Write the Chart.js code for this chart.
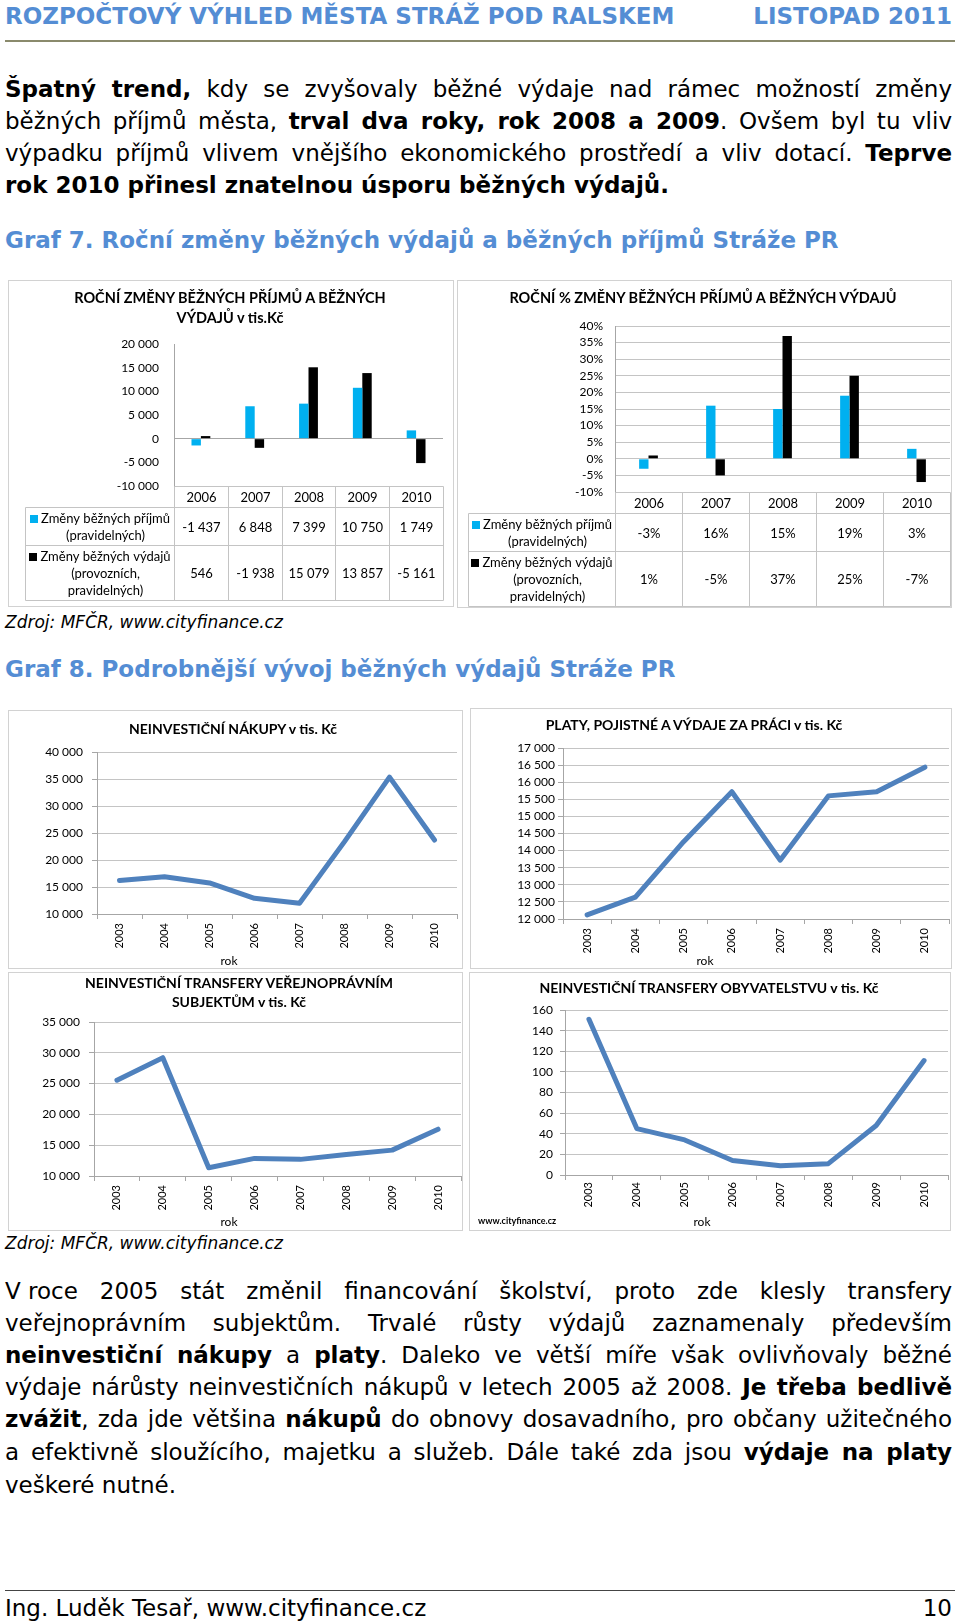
<!DOCTYPE html>
<html lang="cs">
<head>
<meta charset="utf-8">
<title>Rozpočtový výhled města Stráž pod Ralskem</title>
<script src="https://cdn.jsdelivr.net/npm/chart.js@4.4.1/dist/chart.umd.min.js"></script>
<style>
  html, body { margin: 0; padding: 0; background: #fff; }
  body { width: 960px; height: 1624px; position: relative; overflow: hidden;
         font-family: "DejaVu Sans", Verdana, sans-serif; color: #000; }
  .abs { position: absolute; white-space: nowrap; }
  .head { font-weight: bold; color: #548dd4; font-size: 23px; line-height: 30px; }
  .jl { position: absolute; left: 5px; width: 947px; height: 32px; font-size: 23px; line-height: 32px; white-space: nowrap; }
  .jl .ns { word-spacing: normal; }
  .zdroj { font-style: italic; font-size: 17px; line-height: 24px; left: 5px; }
  .box { position: absolute; border: 1px solid #d2d2d2; box-sizing: border-box; background: #fff; }
  .cw { position: absolute; left: 0; top: 0; right: 0; bottom: 0; }
  .ct { position: absolute; font-family: Lato, sans-serif; font-weight: bold; font-size: 14.5px; line-height: 20px;
        text-align: center; transform: translateX(-50%); white-space: nowrap; }
  .rok { position: absolute; font-family: Lato, sans-serif; font-size: 12px; line-height: 14px; transform: translateX(-50%); }
  .rule { position: absolute; left: 5px; width: 950px; }
</style>
</head>
<body>

<div class="abs head" style="left:5px; top:1px;">ROZPOČTOVÝ VÝHLED MĚSTA STRÁŽ POD RALSKEM</div>
<div class="abs head" style="right:8px; top:1px;">LISTOPAD 2011</div>
<div class="rule" style="top:40px; height:2px; background:#8a8a6c;"></div>

<div class="jl just" style="top:73px;"><span><b>Špatný trend,</b> kdy se zvyšovaly běžné výdaje nad rámec možností změny</span></div>
<div class="jl just" style="top:105px;"><span>běžných příjmů města, <b>trval dva roky, rok 2008 a 2009</b>. Ovšem byl tu vliv</span></div>
<div class="jl just" style="top:137px;"><span>výpadku příjmů vlivem vnějšího ekonomického prostředí a vliv dotací. <b>Teprve</b></span></div>
<div class="jl" style="top:169px;"><span><b>rok 2010 přinesl znatelnou úsporu běžných výdajů.</b></span></div>

<div class="abs head" style="left:5px; top:225px;">Graf 7. Roční změny běžných výdajů a běžných příjmů Stráže PR</div>

<div class="box" style="left:8px; top:280px; width:446px; height:327px;"><div class="cw"><canvas id="c1"></canvas></div></div>
<div class="box" style="left:457px; top:280px; width:495px; height:328px;"><div class="cw"><canvas id="c2"></canvas></div></div>
<div class="ct" style="left:230px; top:288px;">ROČNÍ ZMĚNY BĚŽNÝCH PŘÍJMŮ A BĚŽNÝCH<br>VÝDAJŮ v tis.Kč</div>
<div class="ct" style="left:703px; top:288px;">ROČNÍ % ZMĚNY BĚŽNÝCH PŘÍJMŮ A BĚŽNÝCH VÝDAJŮ</div>

<div class="abs zdroj" style="top:610px;">Zdroj: MFČR, www.cityfinance.cz</div>

<div class="abs head" style="left:5px; top:654px;">Graf 8. Podrobnější vývoj běžných výdajů Stráže PR</div>

<div class="box" style="left:8px; top:710px; width:455px; height:259px;"><div class="cw"><canvas id="c3"></canvas></div></div>
<div class="box" style="left:470px; top:708px; width:482px; height:261px;"><div class="cw"><canvas id="c4"></canvas></div></div>
<div class="box" style="left:8px; top:972px; width:455px; height:259px;"><div class="cw"><canvas id="c5"></canvas></div></div>
<div class="box" style="left:469px; top:972px; width:482px; height:259px;"><div class="cw"><canvas id="c6"></canvas></div></div>

<div class="ct" style="left:233px; top:719px; font-size:14px;">NEINVESTIČNÍ NÁKUPY v tis. Kč</div>
<div class="ct" style="left:694px; top:715px; font-size:14px;">PLATY, POJISTNÉ A VÝDAJE ZA PRÁCI v tis. Kč</div>
<div class="ct" style="left:239px; top:973px; font-size:14px; line-height:19px;">NEINVESTIČNÍ TRANSFERY VEŘEJNOPRÁVNÍM<br>SUBJEKTŮM v tis. Kč</div>
<div class="ct" style="left:709px; top:978px; font-size:14px;">NEINVESTIČNÍ TRANSFERY OBYVATELSTVU v tis. Kč</div>
<div class="rok" style="left:229px; top:954px;">rok</div>
<div class="rok" style="left:705px; top:954px;">rok</div>
<div class="rok" style="left:229px; top:1215px;">rok</div>
<div class="rok" style="left:702px; top:1215px;">rok</div>
<div class="abs" style="left:478px; top:1215px; font-family:Lato, sans-serif; font-weight:bold; font-size:9px; line-height:12px;">www.cityfinance.cz</div>

<div class="abs zdroj" style="top:1231px;">Zdroj: MFČR, www.cityfinance.cz</div>

<div class="jl just" style="top:1275px;"><span><span class="ns">V roce</span> 2005 stát změnil financování školství, proto zde klesly transfery</span></div>
<div class="jl just" style="top:1307px;"><span>veřejnoprávním subjektům. Trvalé růsty výdajů zaznamenaly především</span></div>
<div class="jl just" style="top:1339px;"><span><b>neinvestiční nákupy</b> a <b>platy</b>. Daleko ve větší míře však ovlivňovaly běžné</span></div>
<div class="jl just" style="top:1371px;"><span>výdaje nárůsty neinvestičních nákupů v letech 2005 až 2008. <b>Je třeba bedlivě</b></span></div>
<div class="jl just" style="top:1403px;"><span><b>zvážit</b>, zda jde většina <b>nákupů</b> do obnovy dosavadního, pro občany užitečného</span></div>
<div class="jl just" style="top:1436px;"><span>a efektivně sloužícího, majetku a služeb. Dále také zda jsou <b>výdaje na platy</b></span></div>
<div class="jl" style="top:1469px;"><span>veškeré nutné.</span></div>

<div class="rule" style="top:1590px; height:1px; background:#444;"></div>
<div class="abs" style="left:5px; top:1592px; font-size:23px; line-height:32px;">Ing. Luděk Tesař, www.cityfinance.cz</div>
<div class="abs" style="right:8px; top:1592px; font-size:23px; line-height:32px;">10</div>

<script>
// Graf 7 - roční změny (tis. Kč) a procentní změny
const years = ['2006', '2007', '2008', '2009', '2010'];
const incomeChange = [-1437, 6848, 7399, 10750, 1749];
const spendChange = [546, -1938, 15079, 13857, -5161];
const incomePct = [-3, 16, 15, 19, 3];
const spendPct = [1, -5, 37, 25, -7];
const incomeLegend = ['Změny běžných příjmů', '(pravidelných)'];
const spendLegend = ['Změny běžných výdajů', '(provozních,', 'pravidelných)'];

// Graf 8 - podrobnější vývoj výdajů (tis. Kč)
const lineYears = ['2003', '2004', '2005', '2006', '2007', '2008', '2009', '2010'];
const nakupy = [16200, 16900, 15750, 12900, 12000, 23400, 35350, 23700];
const platy = [12120, 12640, 14260, 15720, 13720, 15600, 15720, 16440];
const transferyVS = [25550, 29200, 11350, 12860, 12700, 13500, 14200, 17600];
const transferyObyv = [151, 45, 34, 14, 9, 11, 48, 111];

const BLUE = '#00b0f0';
const BLACK = '#000000';
const LINE = '#4f81bd';
const GRID = '#c4c4c4';
const AXIS = '#a6a6a6';

Chart.defaults.font.family = 'Lato, sans-serif';
Chart.defaults.font.size = 12;
Chart.defaults.color = '#000';

// justify each text line to the full width (spaces inside .ns stay normal)
document.querySelectorAll('.jl.just').forEach(el => {
  const span = el.firstElementChild;
  const natural = span.getBoundingClientRect().width;
  let spaces = (span.textContent.match(/ /g) || []).length;
  span.querySelectorAll('.ns').forEach(n => { spaces -= (n.textContent.match(/ /g) || []).length; });
  if (spaces) span.style.wordSpacing = ((el.clientWidth - natural) / spaces) + 'px';
});

const fmt = v => (v < 0 ? '-' : '') + String(Math.abs(v)).replace(/\B(?=(\d{3})+(?!\d))/g, '\u00a0');
const pct = v => v + '%';

// Excel-like data table drawn under the bar chart, columns follow the x scale
const dataTable = {
  id: 'dataTable',
  afterDraw(chart, args, o) {
    const { ctx, chartArea: a } = chart;
    const x = chart.scales.x;
    const n = chart.data.labels.length;
    const step = x.getPixelForValue(1) - x.getPixelForValue(0);
    const edges = [];
    for (let i = 0; i <= n; i++) edges.push(Math.round(x.getPixelForValue(0) - step / 2 + i * step) + 0.5);
    const t0 = Math.round(a.bottom) + 0.5;
    const t1 = t0 + o.rows[0], t2 = t1 + o.rows[1], t3 = t2 + o.rows[2];
    const L = o.left + 0.5;
    ctx.save();
    ctx.strokeStyle = o.lineColor;
    ctx.lineWidth = 1;
    ctx.beginPath();
    ctx.moveTo(edges[0], t0); ctx.lineTo(edges[n], t0);
    [t1, t2, t3].forEach(y => { ctx.moveTo(L, y); ctx.lineTo(edges[n], y); });
    ctx.moveTo(L, t1); ctx.lineTo(L, t3);
    edges.forEach(e => { ctx.moveTo(e, t0); ctx.lineTo(e, t3); });
    ctx.stroke();

    ctx.font = o.font;
    ctx.fillStyle = '#000';
    ctx.textAlign = 'center';
    ctx.textBaseline = 'middle';
    chart.data.labels.forEach((lab, i) => {
      const cx = (edges[i] + edges[i + 1]) / 2;
      ctx.fillText(lab, cx, (t0 + t1) / 2 + 1);
      chart.data.datasets.forEach((ds, k) => {
        const yc = k === 0 ? (t1 + t2) / 2 : (t2 + t3) / 2;
        ctx.fillText(o.format(ds.data[i]), cx, yc + 1);
      });
    });
    chart.data.datasets.forEach((ds, k) => {
      const lines = o.legend[k];
      const top = k === 0 ? t1 : t2, bot = k === 0 ? t2 : t3;
      const w = Math.max(...lines.map(s => ctx.measureText(s).width));
      const cx = (L + edges[0]) / 2;
      const x0 = cx - (w + 11) / 2;
      const y0 = (top + bot) / 2 - (lines.length - 1) * o.lineHeight / 2 + 1;
      ctx.fillStyle = ds.backgroundColor;
      ctx.fillRect(Math.round(x0), Math.round(y0 - 4), 8, 8);
      ctx.fillStyle = '#000';
      lines.forEach((s, j) => ctx.fillText(s, x0 + 11 + w / 2, y0 + j * o.lineHeight));
    });
    ctx.restore();
  }
};

function barChart(id, inc, spd, y, pad, yWidth, table, catPct) {
  return new Chart(document.getElementById(id), {
    type: 'bar',
    data: {
      labels: years,
      datasets: [
        { label: incomeLegend.join(' '), data: inc, backgroundColor: BLUE, barPercentage: 1, categoryPercentage: catPct },
        { label: spendLegend.join(' '), data: spd, backgroundColor: BLACK, barPercentage: 1, categoryPercentage: catPct }
      ]
    },
    options: {
      responsive: true,
      maintainAspectRatio: false,
      animation: false,
      layout: { padding: pad },
      plugins: { legend: { display: false }, tooltip: { enabled: false }, dataTable: table },
      scales: {
        x: {
          grid: { display: false },
          border: { display: false },
          ticks: { display: false },
          afterFit: s => { s.height = 0; }
        },
        y: Object.assign({
          border: { display: true, color: AXIS },
          afterFit: s => { s.width = yWidth; }
        }, y)
      }
    },
    plugins: [dataTable]
  });
}

barChart('c1', incomeChange, spendChange, {
  min: -10000, max: 20000,
  ticks: { stepSize: 5000, callback: fmt, padding: 15, autoSkip: false },
  grid: { drawTicks: false, color: c => (c.tick && c.tick.value === 0) ? AXIS : 'rgba(0,0,0,0)' }
}, { left: 0, top: 63, right: 10, bottom: 120 }, 165,
  { left: 16, rows: [21, 38, 55], lineColor: GRID, font: '13px Lato', lineHeight: 17, format: fmt, legend: [incomeLegend, spendLegend] }, 0.35);

barChart('c2', incomePct, spendPct, {
  min: -10, max: 40,
  ticks: { stepSize: 5, callback: pct, padding: 12, autoSkip: false },
  grid: { drawTicks: false, color: GRID }
}, { left: 0, top: 45, right: 1, bottom: 115 }, 157,
  { left: 10, rows: [21, 38, 55], lineColor: GRID, font: '13px Lato', lineHeight: 17, format: pct, legend: [incomeLegend, spendLegend] }, 0.28);

function lineChart(id, values, min, max, stepSize, pad, yWidth, tickPad, xHeight, xPad) {
  return new Chart(document.getElementById(id), {
    type: 'line',
    data: {
      labels: lineYears,
      datasets: [{
        data: values, borderColor: LINE, borderWidth: 5, pointRadius: 0, tension: 0,
        borderCapStyle: 'round', borderJoinStyle: 'round', fill: false
      }]
    },
    options: {
      responsive: true,
      maintainAspectRatio: false,
      animation: false,
      layout: { padding: pad },
      plugins: { legend: { display: false }, tooltip: { enabled: false } },
      scales: {
        x: {
          offset: true,
          grid: { drawOnChartArea: false, offset: true, tickLength: 5, color: AXIS },
          border: { color: AXIS },
          ticks: { minRotation: 90, maxRotation: 90, padding: xPad, font: { size: 11 } },
          afterFit: s => { s.height = xHeight; }
        },
        y: {
          min: min, max: max,
          ticks: { stepSize: stepSize, callback: fmt, padding: tickPad, autoSkip: false },
          grid: { color: GRID, tickLength: 5, tickColor: AXIS },
          border: { color: AXIS },
          afterFit: s => { s.width = yWidth; }
        }
      }
    }
  });
}

lineChart('c3', nakupy, 10000, 40000, 5000, { left: 0, top: 41, right: 5, bottom: 15 }, 88, 9, 39, 4);
lineChart('c4', platy, 12000, 17000, 500, { left: 0, top: 39, right: 2, bottom: 10 }, 92, 3, 39, 4);
lineChart('c5', transferyVS, 10000, 35000, 5000, { left: 0, top: 49, right: 1, bottom: 15 }, 85, 9, 39, 4);
lineChart('c6', transferyObyv, 0, 160, 20, { left: 0, top: 37, right: 2, bottom: 17 }, 95, 7, 38, 2);
</script>
</body>
</html>
